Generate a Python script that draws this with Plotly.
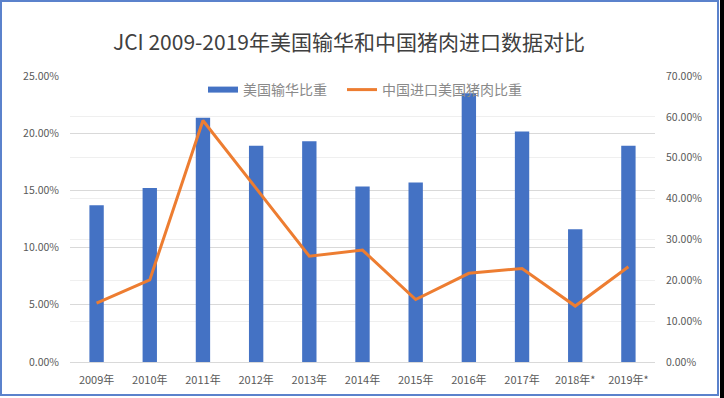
import plotly.graph_objects as go

years = ["2009年", "2010年", "2011年", "2012年", "2013年", "2014年",
         "2015年", "2016年", "2017年", "2018年*", "2019年*"]
us_export_share = [0.137, 0.152, 0.2135, 0.189, 0.193, 0.1535,
                   0.157, 0.235, 0.2015, 0.116, 0.189]
china_import_share = [0.144, 0.201, 0.591, 0.426, 0.259, 0.274,
                      0.153, 0.217, 0.229, 0.137, 0.233]

title_text = "JCI 2009-2019年美国输华和中国猪肉进口数据对比"
bar_name = "美国输华比重"
line_name = "中国进口美国猪肉比重"

FONT = "Noto Sans CJK SC, Noto Sans, sans-serif"
W, H = 724, 398
L, R, T, B = 70, 69, 76, 36
PW, PH = W - L - R, H - T - B
BLUE, ORANGE = "#4472C4", "#ED7D31"


def px(x):
    return (x - L) / PW


def py(y):
    return (H - B - y) / PH


fig = go.Figure()
fig.add_trace(go.Bar(x=years, y=us_export_share, name=bar_name,
                     marker=dict(color=BLUE, line=dict(width=0)),
                     width=0.27, yaxis="y", showlegend=False))
fig.add_trace(go.Scatter(x=years, y=china_import_share, name=line_name,
                         mode="lines", line=dict(color=ORANGE, width=3),
                         yaxis="y2", showlegend=False))
# legend entries drawn as thick line swatches (like the original)
fig.add_trace(go.Scatter(x=[None], y=[None], name=bar_name, mode="lines",
                         line=dict(color=BLUE, width=6), yaxis="y",
                         legend="legend"))
fig.add_trace(go.Scatter(x=[None], y=[None], name=line_name, mode="lines",
                         line=dict(color=ORANGE, width=3), yaxis="y2",
                         legend="legend2"))

legend_style = dict(orientation="h", xanchor="left", y=py(90),
                    yanchor="middle", bgcolor="rgba(0,0,0,0)",
                    font=dict(size=14, color="#8a8a8a"), itemwidth=30)

fig.update_layout(
    width=W, height=H,
    margin=dict(l=L, r=R, t=T, b=B),
    paper_bgcolor="white", plot_bgcolor="white",
    font=dict(family=FONT, color="#595959", size=10),
    title=dict(text=title_text, x=0.482, xanchor="center", y=1 - 43 / H,
               yref="container", yanchor="middle",
               font=dict(family=FONT, size=21, color="#404040")),
    showlegend=True,
    legend=dict(x=px(203), **legend_style),
    legend2=dict(x=px(342), **legend_style),
    xaxis=dict(showgrid=False, showline=True, linecolor="#d9d9d9",
               ticks="", ticklabelstandoff=8,
               tickfont=dict(size=11, color="#595959")),
    yaxis=dict(range=[0, 0.25], dtick=0.05, tickformat=".2%",
               showgrid=True, gridcolor="#d9d9d9", zeroline=False,
               showline=False, ticks="", ticklabelstandoff=10,
               tickfont=dict(size=10.5, color="#595959")),
    yaxis2=dict(range=[0, 0.70], dtick=0.10, tickformat=".2%",
                overlaying="y", side="right", showgrid=True,
                gridcolor="#efefef", zeroline=False, showline=False, ticks="",
                ticklabelstandoff=10,
                tickfont=dict(size=10.5, color="#595959")),
    shapes=[
        dict(type="rect", xref="paper", yref="paper",
             x0=px(1), x1=px(718), y0=py(395), y1=py(1),
             line=dict(color="#5b82cc", width=2), fillcolor="rgba(0,0,0,0)",
             layer="above"),
        dict(type="rect", xref="paper", yref="paper",
             x0=px(720), x1=px(726), y0=py(400), y1=py(-2),
             line=dict(width=0), fillcolor="black", layer="above"),
    ],
)

fig.write_html("out.html", config={"displayModeBar": False},
               post_script="document.body.style.margin='0';document.body.style.overflow='hidden';")
